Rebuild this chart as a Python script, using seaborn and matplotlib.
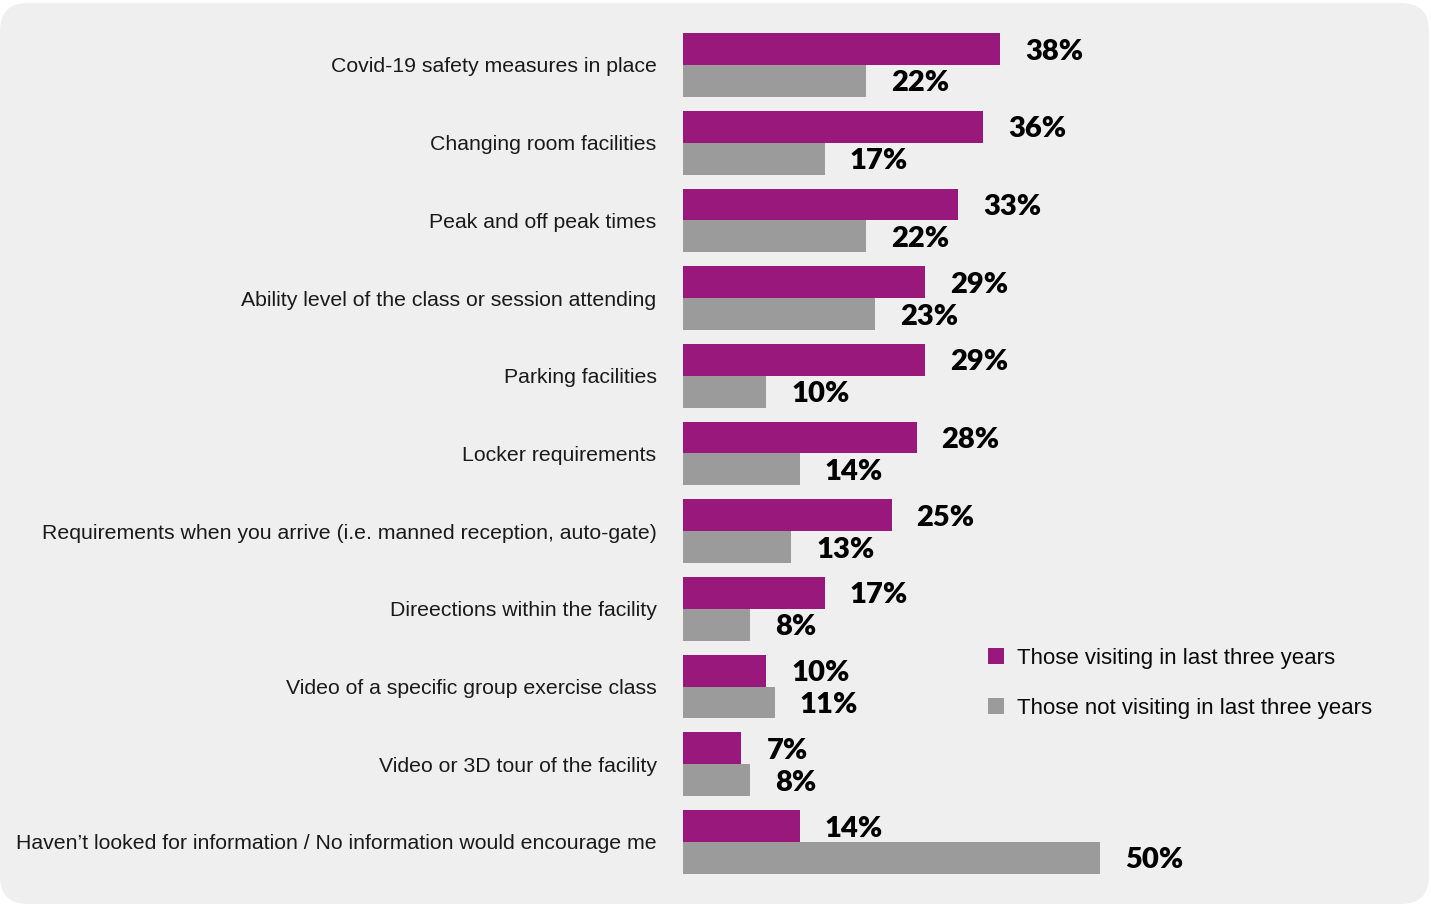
import matplotlib
matplotlib.use("Agg")
import matplotlib.pyplot as plt
from matplotlib.patches import FancyBboxPatch
import seaborn as sns
import pandas as pd

# Chart data
categories = [
    "Covid-19 safety measures in place",
    "Changing room facilities",
    "Peak and off peak times",
    "Ability level of the class or session attending",
    "Parking facilities",
    "Locker requirements",
    "Requirements when you arrive (i.e. manned reception, auto-gate)",
    "Direections within the facility",
    "Video of a specific group exercise class",
    "Video or 3D tour of the facility",
    "Haven\u2019t looked for information / No information would encourage me",
]
visiting = [38, 36, 33, 29, 29, 28, 25, 17, 10, 7, 14]
not_visiting = [22, 17, 22, 23, 10, 14, 13, 8, 11, 8, 50]
series_names = ["Those visiting in last three years", "Those not visiting in last three years"]
colors = ["#98187c", "#9b9b9b"]

df = pd.DataFrame({
    "category": categories * 2,
    "value": visiting + not_visiting,
    "group": [series_names[0]] * len(categories) + [series_names[1]] * len(categories),
})

sns.set_theme(style="white")
plt.rcParams["font.family"] = ["Liberation Sans", "DejaVu Sans"]

W, H = 1431, 906
fig = plt.figure(figsize=(W / 100, H / 100), dpi=100, facecolor="white")

# rounded light-grey panel behind everything
panel = FancyBboxPatch((0, 2), 1429, 901, boxstyle="round,pad=0,rounding_size=28",
                       transform=None, facecolor="#efefef", edgecolor="none", zorder=-5)
fig.patches.append(panel)

ax_left, ax_right = 683, 1400
ax = fig.add_axes([ax_left / W, 0, (ax_right - ax_left) / W, 1])
ax.set_facecolor("none")

sns.barplot(data=df, y="category", x="value", hue="group", orient="h",
            palette=colors, width=0.82, saturation=1, linewidth=0,
            ax=ax, legend=True)

px_per_pct = 8.34
ax.set_xlim(0, (ax_right - ax_left) / px_per_pct)
step = 77.7
ax.set_ylim((906 - 65) / step, -65 / step)

for cont in ax.containers:
    labels = ax.bar_label(cont, fmt="%d%%", padding=18, fontsize=21, fontweight="heavy",
                          family=["Lato", "DejaVu Sans"], color="black")
    for t in labels:
        t.set_va("center_baseline")

for s in ax.spines.values():
    s.set_visible(False)
ax.set_xticks([])
ax.set_xlabel("")
ax.set_ylabel("")
ax.tick_params(axis="y", length=0, pad=19, labelsize=15.3, labelcolor="#1a1a1a")

leg = ax.legend(loc="upper left", bbox_to_anchor=(968 / W, 1 - 628 / H),
                bbox_transform=fig.transFigure, frameon=False, fontsize=16,
                handlelength=0.7, handleheight=0.7, handletextpad=0.6, labelspacing=1.3)
for t in leg.get_texts():
    t.set_color("#0a0a0a")

fig.savefig("out.png", dpi=100, facecolor="white")
